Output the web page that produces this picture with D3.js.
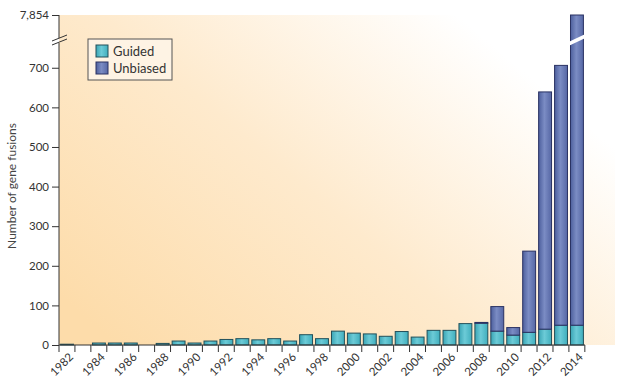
<!DOCTYPE html>
<html>
<head>
<meta charset="utf-8">
<script src="https://cdnjs.cloudflare.com/ajax/libs/d3/7.8.5/d3.min.js"></script>
<style>
  body { margin: 0; background: #fff; }
  svg { font-family: Lato, "Open Sans", sans-serif; }
</style>
</head>
<body>
<script>
const years = d3.range(1982, 2015);
const guided = [2,0,5,5,5,0,4,10,5,10,14,16,13,16,10,26,16,35,30,28,22,34,20,37,37,54,55,35,25,32,40,50,50];
const unbiased = [0,0,0,0,0,0,0,0,0,0,0,0,0,0,0,0,0,0,0,0,0,0,0,0,0,0,2,62,19,205,599,656,7804];
const yTicks = [0,100,200,300,400,500,600,700,7854];
const yearLabels = years.filter(d => d % 2 === 0);

const margin = {top: 15, left: 59},
      width = 526, height = 330;

const svg = d3.select("body").append("svg")
    .attr("width", 640).attr("height", 386);

const defs = svg.append("defs");
const bg = defs.append("linearGradient").attr("id", "bg")
    .attr("x1", "0").attr("y1", "0.85").attr("x2", "1").attr("y2", "0.15");
bg.append("stop").attr("offset", "0%").attr("stop-color", "#fddcaa");
bg.append("stop").attr("offset", "45%").attr("stop-color", "#feeacd");
bg.append("stop").attr("offset", "88%").attr("stop-color", "#ffffff");

function sheen(id, dark, mid, light) {
  const g = defs.append("linearGradient").attr("id", id);
  g.append("stop").attr("offset", "0%").attr("stop-color", dark);
  g.append("stop").attr("offset", "45%").attr("stop-color", light);
  g.append("stop").attr("offset", "100%").attr("stop-color", mid);
}
sheen("gGuided", "#3aa5b5", "#40aebd", "#6ccbd7");
sheen("gUnbiased", "#4d5f9d", "#5667a5", "#7b8cc4");

const g = svg.append("g").attr("transform", `translate(${margin.left},${margin.top})`);

g.append("rect").attr("width", width + 30).attr("height", height).attr("fill", "url(#bg)");

const x = d3.scaleBand().domain(years).range([0, width]).paddingInner(0.19).paddingOuter(0.1);
const y = d3.scaleLinear().domain([0, 760, 7854]).range([height, 29, 0]);

const stack = years.map((yr, i) => ({year: yr, g: guided[i], u: unbiased[i]}));

g.selectAll("rect.guided").data(stack.filter(d => d.g > 0)).enter().append("rect")
    .attr("class", "guided")
    .attr("x", d => x(d.year)).attr("width", x.bandwidth())
    .attr("y", d => y(d.g)).attr("height", d => y(0) - y(d.g))
    .attr("fill", "url(#gGuided)").attr("stroke", "#22505a").attr("stroke-width", 1);

g.selectAll("rect.unbiased").data(stack.filter(d => d.u > 0)).enter().append("rect")
    .attr("class", "unbiased")
    .attr("x", d => x(d.year)).attr("width", x.bandwidth())
    .attr("y", d => y(d.g + d.u)).attr("height", d => y(d.g) - y(d.g + d.u))
    .attr("fill", "url(#gUnbiased)").attr("stroke", "#2a3263").attr("stroke-width", 1);

// break across the tallest bar
const last = years[years.length - 1];
const bx = x(last), bw = x.bandwidth();
g.append("path")
    .attr("d", `M${bx - 2},${27} L${bx + bw + 2},${19} L${bx + bw + 2},${23} L${bx - 2},${31} Z`)
    .attr("fill", "#fff");

// x axis
const xAxis = g.append("g").attr("transform", `translate(0,${height})`);
xAxis.append("line").attr("x1", 0).attr("x2", width).attr("stroke", "#333");
xAxis.selectAll("line.tk").data(years.concat([null])).enter().append("line")
    .attr("class", "tk")
    .attr("x1", (d, i) => i * x.step()).attr("x2", (d, i) => i * x.step())
    .attr("y1", 0).attr("y2", 7).attr("stroke", "#333");
xAxis.selectAll("text").data(yearLabels).enter().append("text")
    .attr("transform", d => `translate(${x(d) + x.bandwidth() / 2 + 4},${10}) rotate(-45)`)
    .attr("text-anchor", "end").attr("dy", "0.35em")
    .style("font-size", "11.5px").attr("fill", "#333")
    .text(d => d);

// y axis
const yAxis = d3.axisLeft(y).tickValues(yTicks).tickSize(7).tickPadding(3)
    .tickFormat(d3.format(","));
const ya = g.append("g").call(yAxis);
ya.select(".domain").remove();
ya.selectAll("text").style("font-size", "11.5px").attr("fill", "#333")
    .style("font-family", "Lato, sans-serif");
ya.selectAll("line").attr("stroke", "#333");
g.append("line").attr("x1", 0).attr("x2", 0).attr("y1", 0).attr("y2", 23).attr("stroke", "#333");
g.append("line").attr("x1", 0).attr("x2", 0).attr("y1", 28).attr("y2", height).attr("stroke", "#333");
[26, 30].forEach(v => {
  g.append("line").attr("x1", -7).attr("x2", 8).attr("y1", v).attr("y2", v - 6)
      .attr("stroke", "#333").attr("stroke-width", 1);
});

// y label
svg.append("text")
    .attr("transform", `translate(16,186) rotate(-90)`)
    .attr("text-anchor", "middle").style("font-size", "12px").attr("fill", "#444")
    .text("Number of gene fusions");

// legend
const lg = svg.append("g").attr("transform", "translate(88,39)");
lg.append("rect").attr("width", 84).attr("height", 41)
    .attr("fill", "#fef3e4").attr("stroke", "#555").attr("stroke-width", 1);
[["Guided", "url(#gGuided)", "#22505a"], ["Unbiased", "url(#gUnbiased)", "#2a3263"]].forEach((d, i) => {
  lg.append("rect").attr("x", 8).attr("y", 6 + i * 17).attr("width", 12).attr("height", 12)
      .attr("fill", d[1]).attr("stroke", d[2]);
  lg.append("text").attr("x", 25).attr("y", 12 + i * 17).attr("dy", "0.35em")
      .style("font-size", "13px").attr("fill", "#333").text(d[0]);
});
</script>
</body>
</html>
